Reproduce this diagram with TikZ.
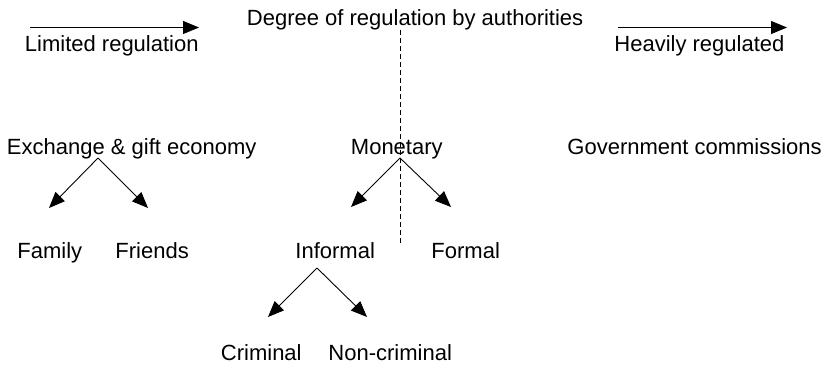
\documentclass[tikz,border=0pt]{standalone}
\usepackage{fontspec}
\setmainfont{Liberation Sans}
\usetikzlibrary{arrows.meta}

\begin{document}
\begin{tikzpicture}[x=1pt, y=-1pt, line width=0.9pt,
    txt/.style={anchor=base west, inner sep=0pt, font=\fontsize{22}{26}\selectfont},
    pfeil/.style={-{Triangle[length=16pt, width=13pt]}}]
    \useasboundingbox (0,0) rectangle (829,366);

    % Skala oben
    \node [txt] (degree) at (246.5,26) {Degree of regulation by authorities};
    \node [txt] (limited) at (24.5,52) {Limited regulation};
    \node [txt] (heavy) at (614,52) {Heavily regulated};
    \coordinate (limA) at (30,27.5);
    \coordinate (limB) at (199,27.5);
    \coordinate (heavyA) at (618,27.5);
    \coordinate (heavyB) at (787,27.5);
    \draw [pfeil] (limA) -- (limB);
    \draw [pfeil] (heavyA) -- (heavyB);

    % Trennlinie
    \coordinate (dashTop) at (400,30);
    \coordinate (dashBot) at (400,245);
    \draw [dash pattern=on 5pt off 3pt, line width=0.7pt] (dashTop) -- (dashBot);

    % Kategorien
    \node [txt] (exchange) at (6.5,155) {Exchange \& gift economy};
    \node [txt] (monetary) at (350.5,155) {Monetary};
    \node [txt] (gov) at (567,155) {Government commissions};
    \node [txt] (family) at (17,258) {Family};
    \node [txt] (friends) at (115,258) {Friends};
    \node [txt] (informal) at (295,258) {Informal};
    \node [txt] (formal) at (431,258) {Formal};
    \node [txt] (criminal) at (220.5,360) {Criminal};
    \node [txt] (noncriminal) at (328,360) {Non-criminal};

    % Verzweigungen
    \coordinate (exTop) at (98,158);
    \coordinate (famTip) at (49,208);
    \coordinate (friTip) at (148,208);
    \draw [pfeil] (exTop) -- (famTip);
    \draw [pfeil] (exTop) -- (friTip);

    \coordinate (monTop) at (400,158);
    \coordinate (infTip) at (351,207);
    \coordinate (forTip) at (451,207);
    \draw [pfeil] (monTop) -- (infTip);
    \draw [pfeil] (monTop) -- (forTip);

    \coordinate (infTop) at (317,268);
    \coordinate (crimTip) at (268,317);
    \coordinate (noncTip) at (367,317);
    \draw [pfeil] (infTop) -- (crimTip);
    \draw [pfeil] (infTop) -- (noncTip);
\end{tikzpicture}
\end{document}
